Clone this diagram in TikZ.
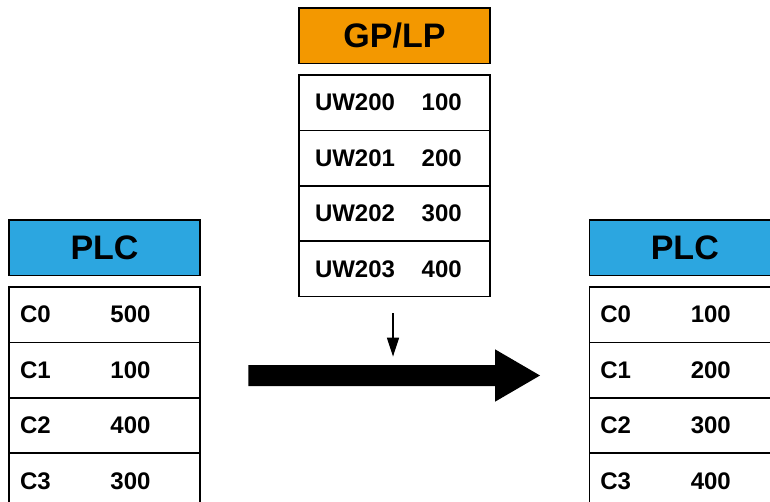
\documentclass[tikz,border=0pt]{standalone}
\usepackage{fontspec}
\setmainfont{Liberation Sans}
\usetikzlibrary{positioning,arrows.meta}
\definecolor{plcblue}{HTML}{2CA6E0}
\definecolor{gporange}{HTML}{F39800}
\newcommand{\regval}[3][90.5pt]{\makebox[#1][l]{#2}#3}
\tikzset{
  headbox/.style={draw, line width=1.5pt, outer sep=0pt, minimum width=191pt, minimum height=55.3pt, inner sep=0pt, font=\fontsize{34}{36}\selectfont\bfseries},
  regbox/.style={draw, line width=1.5pt, outer sep=0pt, minimum height=55.4pt, inner ysep=0pt, inner xsep=11pt, text width=169pt, align=left, font=\fontsize{24}{26}\selectfont\bfseries},
  uwbox/.style={regbox, inner xsep=16pt, text width=159pt},
  bigarrow/.style={fill=black},
  feedarrow/.style={-{Triangle[length=19pt,width=12pt]}, line width=1.5pt}
}
\begin{document}
\begin{tikzpicture}[x=1pt, y=-1pt]
  \useasboundingbox (0,0) rectangle (770,501);
  % GP/LP side
  \node[headbox, fill=gporange, anchor=north west] (gplp) at (299,8) {GP/LP};
  \node[uwbox, below=11.7pt of gplp] (uw0) {\regval[106.7pt]{UW200}{100}};
  \node[uwbox, below=0pt of uw0] (uw1) {\regval[106.7pt]{UW201}{200}};
  \node[uwbox, below=0pt of uw1] (uw2) {\regval[106.7pt]{UW202}{300}};
  \node[uwbox, below=0pt of uw2] (uw3) {\regval[106.7pt]{UW203}{400}};
  % PLC before
  \node[headbox, fill=plcblue, anchor=north west] (plcA) at (9,220) {PLC};
  \node[regbox, below=11.7pt of plcA] (a0) {\regval{C0}{500}};
  \node[regbox, below=0pt of a0] (a1) {\regval{C1}{100}};
  \node[regbox, below=0pt of a1] (a2) {\regval{C2}{400}};
  \node[regbox, below=0pt of a2] (a3) {\regval{C3}{300}};
  % PLC after
  \node[headbox, fill=plcblue, anchor=north west] (plcB) at (589.3,220) {PLC};
  \node[regbox, below=11.7pt of plcB] (b0) {\regval{C0}{100}};
  \node[regbox, below=0pt of b0] (b1) {\regval{C1}{200}};
  \node[regbox, below=0pt of b1] (b2) {\regval{C2}{300}};
  \node[regbox, below=0pt of b2] (b3) {\regval{C3}{400}};
  % transfer
  \fill[bigarrow] (248.3,365) -- (495,365) -- (495,349.3) -- (540,375.5)
    -- (495,401.7) -- (495,386) -- (248.3,386) -- cycle;
  \coordinate (feedtip) at ([xshift=-1.5pt, yshift=-60pt]uw3.south);
  \draw[feedarrow] ([xshift=-1.5pt, yshift=-16.7pt]uw3.south) -- (feedtip);
\end{tikzpicture}
\end{document}
